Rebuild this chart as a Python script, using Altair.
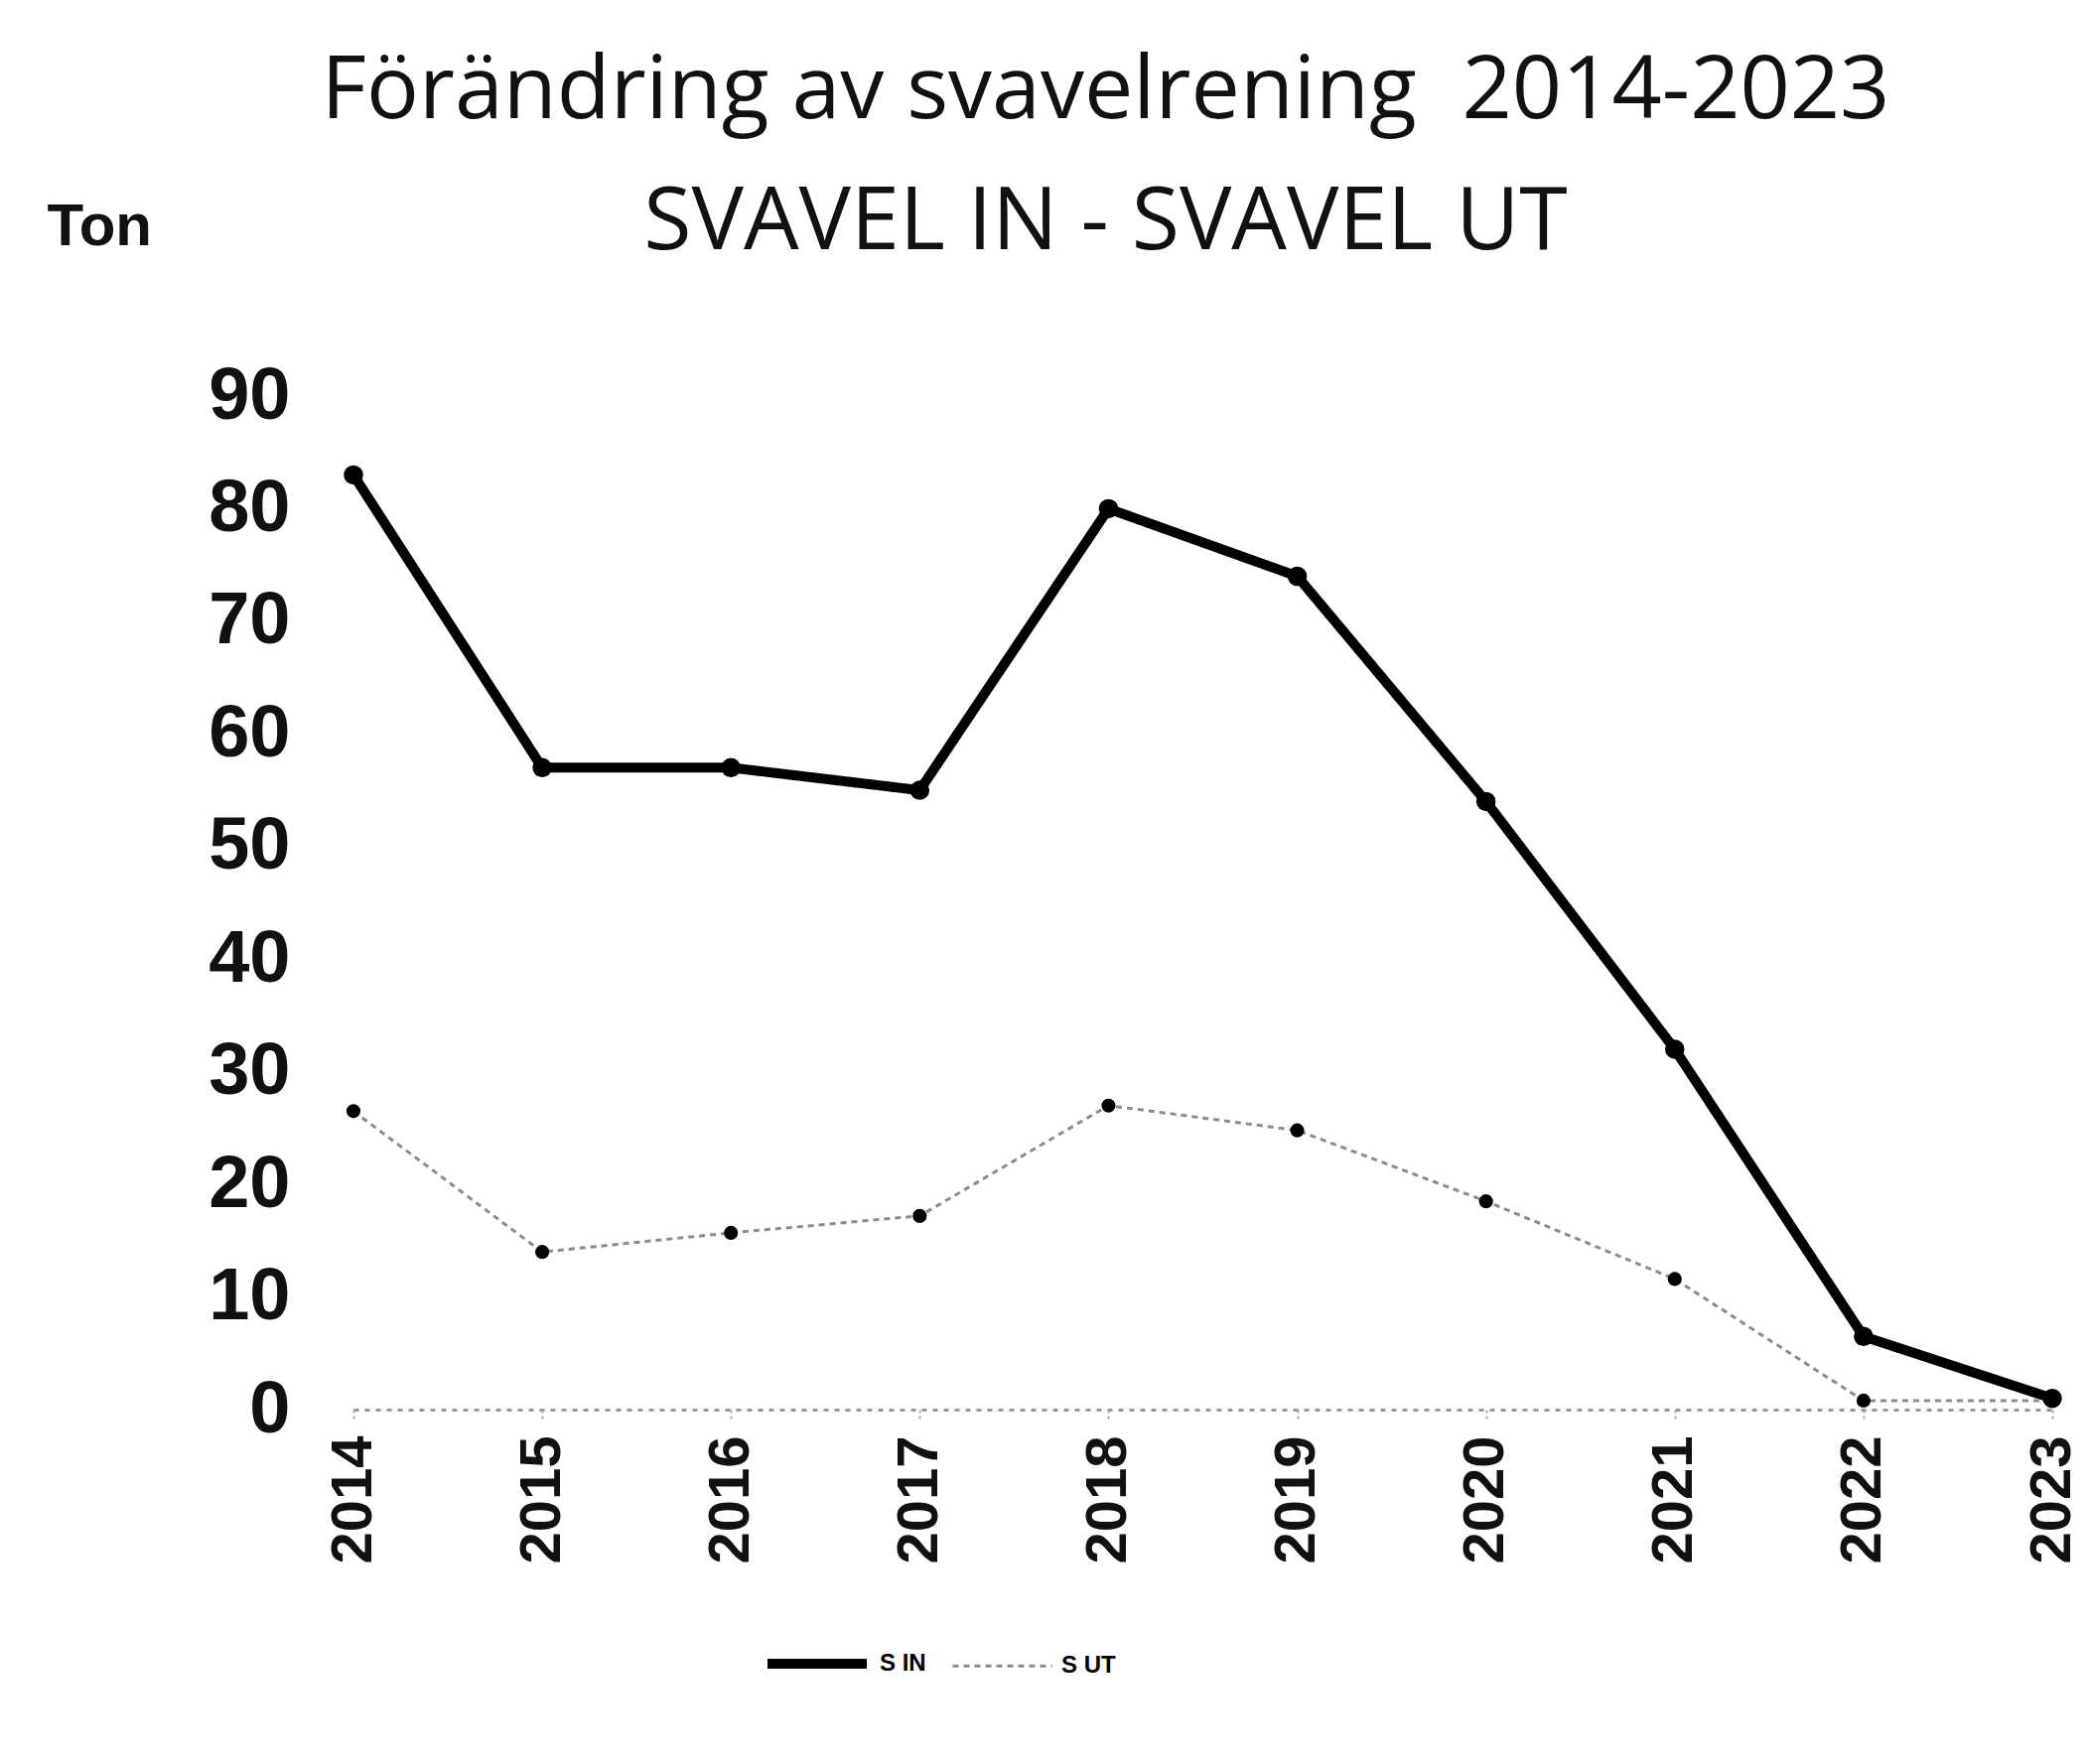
import altair as alt
import pandas as pd

years = [2014, 2015, 2016, 2017, 2018, 2019, 2020, 2021, 2022, 2023]
s_in = [83, 57, 57, 55, 80, 74, 54, 32, 6.5, 1]
s_ut = [26.5, 14, 15.7, 17.2, 27, 24.8, 18.5, 11.6, 0.8, 0.8]
series_names = ["S IN", "S UT"]
y_ticks = [0, 10, 20, 30, 40, 50, 60, 70, 80, 90]

rows = []
for y, a, b in zip(years, s_in, s_ut):
    rows.append({"year": str(y), "value": a, "series": series_names[0]})
    rows.append({"year": str(y), "value": b, "series": series_names[1]})
df = pd.DataFrame(rows)

x = alt.X("year:O", scale=alt.Scale(type="point", padding=0),
          axis=alt.Axis(title=None, labelAngle=270, labelFont="Liberation Sans",
                        labelFontWeight="bold", labelFontSize=58, labelColor="#111",
                        labelPadding=14, domainColor="#999", domainDash=[5, 6],
                        domainWidth=3, tickColor="#aaa", tickSize=12, tickWidth=2,
                        tickDash=[3, 3], grid=False, labelBaseline="middle",
                        labelAlign="right"))
y = alt.Y("value:Q", scale=alt.Scale(domain=[0, 90], nice=False),
          axis=alt.Axis(values=y_ticks, title="Ton", titleAngle=0, titleAlign="left",
                        titleBaseline="middle", titleX=-309, titleY=-171,
                        titleFont="Liberation Sans", titleFontSize=60,
                        titleFontWeight="bold", titleColor="#111",
                        labelFont="Liberation Sans", labelFontWeight="bold",
                        labelFontSize=74, labelColor="#111", labelPadding=64,
                        domain=False, ticks=False, grid=False))
color = alt.Color("series:N", scale=alt.Scale(domain=series_names, range=["#000000", "#8c8c8c"]),
                  legend=alt.Legend(title=None, orient="none", direction="horizontal",
                                    legendX=412, legendY=1222, symbolType="M-1,0L1,0",
                                    symbolSize=10000, symbolStrokeWidth=5,
                                    labelFontSize=24, labelFont="Liberation Sans",
                                    labelFontWeight="bold", columnPadding=20,
                                    labelOffset=8))
dash = alt.StrokeDash("series:N", scale=alt.Scale(domain=series_names, range=[[1, 0], [6, 5]]),
                      legend=None)
width = alt.StrokeWidth("series:N", scale=alt.Scale(domain=series_names, range=[10, 3]), legend=None)

lines = alt.Chart(df).mark_line().encode(x=x, y=y, color=color, strokeDash=dash, strokeWidth=width)
pts_in = alt.Chart(df).transform_filter(alt.datum.series == series_names[0]).mark_circle(
    opacity=1, color="black", size=380).encode(x=x, y=y)
pts_ut = alt.Chart(df).transform_filter(alt.datum.series == series_names[1]).mark_circle(
    opacity=1, color="black", size=200).encode(x=x, y=y)

chart = alt.layer(lines, pts_in, pts_ut).properties(
    width=1711, height=1021,
    background="white",
    autosize=alt.AutoSizeParams(type="none"),
    padding={"left": 348, "top": 391, "right": 21, "bottom": 340},
    title=alt.TitleParams(
        text="Förändring av svavelrening\u00a0 2014-2023",
        subtitle="SVAVEL IN - SVAVEL UT",
        font="Open Sans", fontSize=88, fontWeight="normal", color="#111",
        subtitleFont="Open Sans", subtitleFontSize=88, subtitleColor="#111",
        subtitlePadding=44, anchor="middle", dx=-98, offset=-71,
    ),
).configure_view(stroke=None)

chart.save("out.html", embed_options={"renderer": "svg", "actions": False})
